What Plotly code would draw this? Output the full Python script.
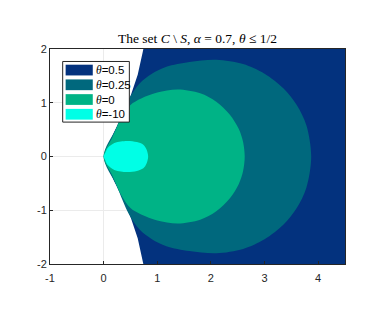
import plotly.graph_objects as go

# left edge of the set (upper half, mirrored for y < 0)
edge_x = [0, 0.2, 0.355, 0.51, 0.635, 0.73, 0.74]
edge_y = [0, 0.465, 0.775, 1.15, 1.52, 1.95, 2.0]

# upper-half outlines (mirrored below the axis)
teal_x = [0, 0.24, 0.47, 0.67, 0.9, 1.17, 1.6, 2.1, 2.6, 3.0, 3.35, 3.6, 3.78, 3.87]
teal_y = [0, 0.54, 1.07, 1.36, 1.54, 1.67, 1.76, 1.80, 1.72, 1.54, 1.27, 0.96, 0.58, 0]

green_x = [0, 0.16, 0.33, 0.5, 0.7, 1.0, 1.38, 1.8, 2.1, 2.35, 2.52, 2.6, 2.63]
green_y = [0, 0.35, 0.72, 0.96, 1.08, 1.19, 1.245, 1.175, 1.02, 0.78, 0.51, 0.27, 0]

cyan_x = [0, 0.03, 0.075, 0.2, 0.32, 0.45, 0.62, 0.74, 0.8, 0.83]
cyan_y = [0, 0.07, 0.16, 0.25, 0.28, 0.29, 0.27, 0.22, 0.13, 0]

thetas = ["0.5", "0.25", "0", "-10"]
colors = ["#03327e", "#00687d", "#00b386", "#00ffe6"]

xticks = [-1, 0, 1, 2, 3, 4]
yticks = [-2, -1, 0, 1, 2]


def closed(xs, ys):
    # start at the origin, run along the lower half, come back along the upper half
    px = xs + xs[::-1][1:]
    py = [-v for v in ys] + ys[::-1][1:]
    return px, py


fig = go.Figure()

# theta = 0.5 : everything right of the edge
bx = edge_x[::-1] + edge_x[1:] + [4.6, 4.6]
by = [-v for v in edge_y[::-1]] + edge_y[1:] + [2.0, -2.0]
fig.add_trace(go.Scatter(x=bx, y=by, fill="toself", mode="lines",
                         line=dict(width=0, color=colors[0]), fillcolor=colors[0],
                         hoverinfo="skip"))

for (xs, ys), c in zip([(teal_x, teal_y), (green_x, green_y), (cyan_x, cyan_y)], colors[1:]):
    px, py = closed(xs, ys)
    fig.add_trace(go.Scatter(x=px, y=py, fill="toself", mode="lines",
                             line=dict(width=0, color=c, shape="spline", smoothing=0.9),
                             fillcolor=c, hoverinfo="skip"))

axis_style = dict(showgrid=True, gridcolor="#ebebeb", gridwidth=1, zeroline=False,
                  showline=True, linecolor="#262626", linewidth=1, mirror=True,
                  ticks="inside", ticklen=3, tickcolor="#262626", automargin=False,
                  tickfont=dict(family="Liberation Sans", size=11, color="#262626"))

fig.update_xaxes(range=[-1, 4.5], tickvals=xticks, ticktext=[str(v) for v in xticks],
                 ticklabelstandoff=4, **axis_style)
fig.update_yaxes(range=[-2, 2], tickvals=yticks, ticktext=[str(v) for v in yticks], **axis_style)

# legend box drawn by hand (MATLAB style, compact rows)
shapes = [dict(type="rect", xref="paper", yref="paper", x0=0.043, x1=0.269, y0=0.660, y1=0.942,
               fillcolor="white", line=dict(color="#262626", width=1), layer="above")]
annotations = []
for i, (th, c) in enumerate(zip(thetas, colors)):
    yc = 0.902 - i * 0.0685
    shapes.append(dict(type="rect", xref="paper", yref="paper", x0=0.053, x1=0.145,
                       y0=yc - 0.025, y1=yc + 0.025, fillcolor=c, line=dict(width=0),
                       layer="above"))
    annotations.append(dict(xref="paper", yref="paper", x=0.150, y=yc, xanchor="left",
                            yanchor="middle", showarrow=False,
                            text="<span style='font-family:Liberation Serif'><i>θ</i></span>=" + th,
                            font=dict(family="Liberation Sans", size=11.5, color="black")))

# the page puts the figure 8px in from the top-left corner
fig.update_layout(
    width=382, height=324,
    margin=dict(l=42, r=45, t=41, b=68),
    paper_bgcolor="white", plot_bgcolor="white",
    title=dict(text="The set <i>C</i> \\ <i>S</i>, <i>α</i> = 0.7, <i>θ</i> ≤ 1/2",
               x=0.496, xanchor="center", y=0.907, yanchor="middle",
               font=dict(family="Liberation Serif", size=13.5, color="black")),
    shapes=shapes, annotations=annotations,
    showlegend=False,
)

fig.write_html("out.html")
